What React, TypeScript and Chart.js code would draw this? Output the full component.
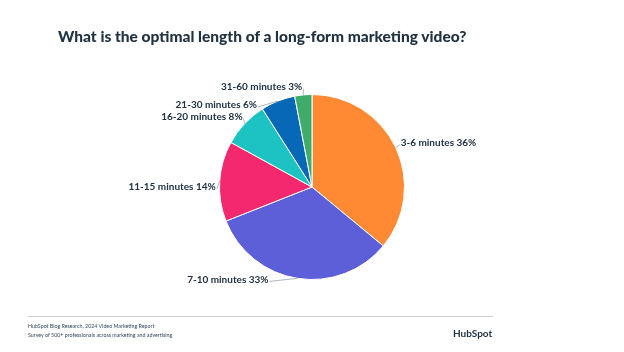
import React, { useEffect, useRef } from "react";
import { Chart, registerables } from "chart.js";

Chart.register(...registerables);

const categories = ["3-6 minutes", "7-10 minutes", "11-15 minutes", "16-20 minutes", "21-30 minutes", "31-60 minutes"];
const shares = [36, 33, 14, 8, 6, 3];
const colors = ["#FF8A33", "#5C5FD8", "#F4286E", "#1CC3C2", "#0868B8", "#40AC6B"];

const title = "What is the optimal length of a long-form marketing video?";
const sourceLines = [
  "HubSpot Blog Research, 2024 Video Marketing Report",
  "Survey of 500+ professionals across marketing and advertising",
];

// label placement relative to the slice's outer mid point
const labelLayout = [
  { dx: 5, dy: -5, align: "left" },
  { dx: -29, dy: 1, align: "right" },
  { dx: -4, dy: 6, align: "right" },
  { dx: -2, dy: -7, align: "right" },
  { dx: -21, dy: 4, align: "right" },
  { dx: -1, dy: -8, align: "right" },
];

const labelPlugin = {
  id: "sliceLabels",
  afterDatasetsDraw(chart: any) {
    const ctx = chart.ctx;
    const meta = chart.getDatasetMeta(0);
    ctx.save();
    ctx.font = "700 10px Lato, 'Noto Sans', sans-serif";
    ctx.textBaseline = "middle";
    meta.data.forEach((arc: any, i: number) => {
      const { x, y, startAngle, endAngle, outerRadius } = arc.getProps(
        ["x", "y", "startAngle", "endAngle", "outerRadius"],
        true
      );
      const mid = (startAngle + endAngle) / 2;
      const px = x + Math.cos(mid) * outerRadius;
      const py = y + Math.sin(mid) * outerRadius;
      const lay = labelLayout[i];
      const tx = px + lay.dx;
      const ty = py + lay.dy;
      ctx.strokeStyle = "#9aa3ad";
      ctx.lineWidth = 0.8;
      ctx.beginPath();
      ctx.moveTo(px, py);
      ctx.lineTo(tx + (lay.align === "left" ? -1 : 1), ty + 2);
      ctx.stroke();
      ctx.fillStyle = "#213343";
      ctx.textAlign = lay.align;
      ctx.fillText(`${categories[i]} ${shares[i]}%`, tx, ty);
    });
    ctx.restore();
  },
};

export default function App() {
  const ref = useRef<HTMLCanvasElement>(null);
  useEffect(() => {
    document.body.style.margin = "0";
    const chart = new Chart(ref.current!, {
      type: "pie",
      data: {
        labels: categories,
        datasets: [
          {
            data: shares,
            backgroundColor: colors,
            borderColor: "#ffffff",
            borderWidth: 1,
          },
        ],
      },
      options: {
        animation: false,
        responsive: false,
        maintainAspectRatio: false,
        layout: { padding: { top: 94, bottom: 72, left: 0, right: 0 } },
        plugins: {
          legend: { display: false },
          tooltip: { enabled: false },
        },
      },
      plugins: [labelPlugin],
    });
    return () => chart.destroy();
  }, []);

  return (
    <div style={{ position: "relative", width: 624, height: 352, background: "#fff", overflow: "hidden" }}>
      <canvas ref={ref} width={624} height={352} style={{ position: "absolute", left: 0, top: 0 }} />
      <div
        style={{
          position: "absolute",
          left: 58,
          top: 24,
          fontFamily: "Lato, 'Noto Sans', sans-serif",
          fontWeight: 900,
          fontSize: 15.5,
          color: "#213343",
          whiteSpace: "nowrap",
          lineHeight: "24px",
        }}
      >
        {title}
      </div>
      <div style={{ position: "absolute", left: 28, top: 316, width: 465, height: 1, background: "#c9ced3" }} />
      <div
        style={{
          position: "absolute",
          left: 28,
          top: 321.5,
          fontFamily: "Lato, 'Noto Sans', sans-serif",
          fontSize: 5.3,
          lineHeight: "9.5px",
          color: "#33475b",
        }}
      >
        {sourceLines.map((s) => (
          <div key={s}>{s}</div>
        ))}
      </div>
      <div
        style={{
          position: "absolute",
          left: 453,
          top: 326,
          fontFamily: "Lato, 'Noto Sans', sans-serif",
          fontWeight: 700,
          fontSize: 10,
          color: "#213343",
          lineHeight: "14px",
        }}
      >
        HubSpot
      </div>
    </div>
  );
}
